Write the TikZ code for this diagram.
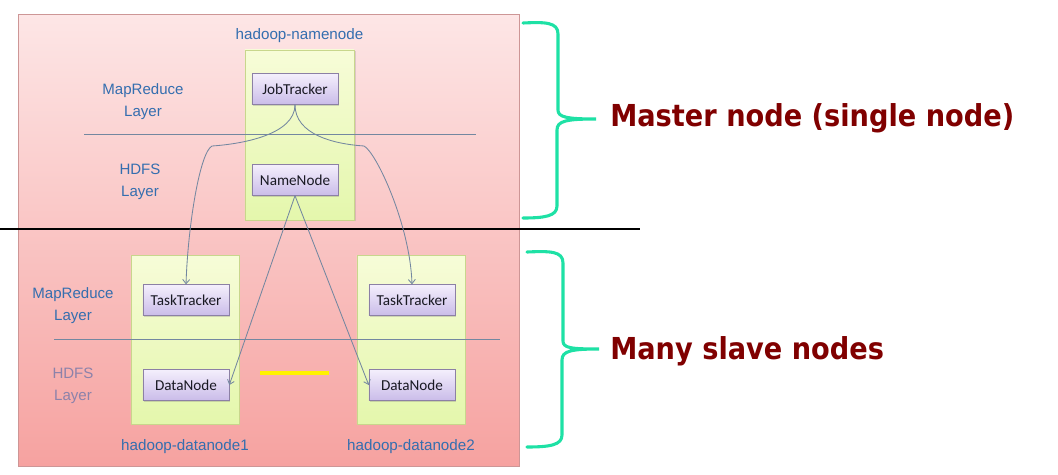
\documentclass[tikz,border=0pt]{standalone}
\usepackage{fontspec}
\setmainfont{Liberation Sans}
\newfontfamily\boxfont{Carlito}
\newfontfamily\bigfont[FakeStretch=0.9]{DejaVu Sans}
\usetikzlibrary{positioning}
\usetikzlibrary{shadows}
\usetikzlibrary{arrows.meta}
\definecolor{pinktop}{RGB}{253,230,230}
\definecolor{pinkbot}{RGB}{246,162,160}
\definecolor{pinkedge}{RGB}{205,150,150}
\definecolor{greentop}{RGB}{247,252,216}
\definecolor{greenbot}{RGB}{228,247,172}
\definecolor{greenedge}{RGB}{200,214,140}
\definecolor{purpletop}{RGB}{244,239,252}
\definecolor{purplebot}{RGB}{202,188,233}
\definecolor{purpleedge}{RGB}{140,128,165}
\definecolor{layerblue}{RGB}{52,110,175}
\definecolor{hdfsgray}{RGB}{140,130,170}
\definecolor{linkgray}{RGB}{115,135,160}
\definecolor{bracegreen}{RGB}{30,225,165}
\definecolor{tagred}{RGB}{128,0,0}
\tikzset{
	>={Straight Barb[length=3pt,width=5pt]},
	panel/.style={
		draw=pinkedge, thin,
		top color=pinktop,
		bottom color=pinkbot},
	machine/.style={
		rectangle,
		draw=greenedge, thin,
		top color=greentop,
		bottom color=greenbot,
		drop shadow={opacity=0.25, shadow xshift=1pt, shadow yshift=-1pt}},
	daemon/.style={
		rectangle,
		draw=purpleedge, thin,
		top color=purpletop,
		bottom color=purplebot,
		minimum width=2.15cm,
		minimum height=0.77cm,
		inner sep=0pt,
		text={rgb,255:red,25;green,25;blue,35},
		font=\boxfont\fontsize{10.8}{12}\selectfont,
		drop shadow={opacity=0.3, shadow xshift=1pt, shadow yshift=-1pt}},
	layer/.style={align=center, text=layerblue, inner sep=0pt,
		font=\fontsize{10.7}{15.5}\selectfont},
	hostname/.style={text=layerblue, inner sep=0pt,
		font=\fontsize{10.8}{12}\selectfont},
	link/.style={draw=linkgray, ->, line width=0.6pt},
	divider/.style={draw=linkgray, line width=0.6pt},
	bracket/.style={draw=bracegreen, line width=2.2pt, line cap=round},
	tag/.style={anchor=base west, inner sep=0pt, text=tagred,
		font=\bigfont\bfseries\fontsize{21.5}{24}\selectfont},
}

\begin{document}
\begin{tikzpicture}[x=0.025cm, y=-0.025cm]
	\useasboundingbox (0,0) rectangle (1058,474);
	% cluster background
	\draw[panel] (18,14) rectangle (519,466);
	\draw[black, line width=1.4pt] (0,229) -- (640,229);
	
	% master
	\node[machine, minimum width=2.73cm, minimum height=4.25cm] (master) at (299.5,135) {};
	\node[hostname, above=5pt of master] (mastername) {hadoop-namenode};
	\node[daemon] (jt) at (295,89) {JobTracker};
	\node[daemon] (nn) at (295,180) {NameNode};
	\draw[divider] (84,134) -- (476,134);
	\node[layer] (mrtop) at (143,102) {MapReduce\\Layer};
	\node[layer] (hdfstop) at (140,182) {HDFS\\Layer};
	
	% slaves
	\node[machine, minimum width=2.7cm, minimum height=4.22cm] (slave1) at (185,339.5) {};
	\node[machine, minimum width=2.7cm, minimum height=4.22cm] (slave2) at (411,339.5) {};
	\node[hostname, below=11pt of slave1] (slave1name) {hadoop-datanode1};
	\node[hostname, below=11pt of slave2] (slave2name) {hadoop-datanode2};
	\node[daemon] (tt1) at (186,300) {TaskTracker};
	\node[daemon] (tt2) at (412,300) {TaskTracker};
	\node[daemon] (dn1) at (186,385) {DataNode};
	\node[daemon] (dn2) at (412,385) {DataNode};
	\draw[divider] (54,339) -- (500,339);
	\node[layer] (mrbot) at (73,306) {MapReduce\\Layer};
	\node[layer, text=hdfsgray] (hdfsbot) at (73,386) {HDFS\\Layer};
	\draw[yellow, line width=2.6pt] (260,373) -- (329,373);
	
	% links
	\draw[link] (jt.south) .. controls +(0,30) and +(30,-2) .. (212,146)
		.. controls +(-12,6) and +(2,-60) .. (tt1.north);
	\draw[link] (jt.south) .. controls +(0,30) and +(-30,-2) .. (364,146)
		.. controls +(12,6) and +(-2,-60) .. (tt2.north);
	\draw[link] (nn.south) -- (dn1.east);
	\draw[link] (nn.south) -- (dn2.west);
	
	% braces
	\draw[bracket] (523,23) .. controls (545,22) and (558,22) .. (558,34) -- (558,110)
		.. controls (558,117) and (566,119) .. (596,119)
		.. controls (566,119) and (557,121) .. (557,130) -- (557,206)
		.. controls (557,216) and (545,218) .. (523,218);
	\draw[bracket] (527,252) .. controls (550,251) and (563,251) .. (563,263) -- (563,341)
		.. controls (563,348) and (571,349) .. (599,349)
		.. controls (571,349) and (562,351) .. (562,360) -- (562,435)
		.. controls (562,445) and (550,447) .. (527,447);
	\node[tag] (mastertag) at (610,126) {Master node (single node)};
	\node[tag] (slavetag) at (610,359) {Many slave nodes};
\end{tikzpicture}
\end{document}
